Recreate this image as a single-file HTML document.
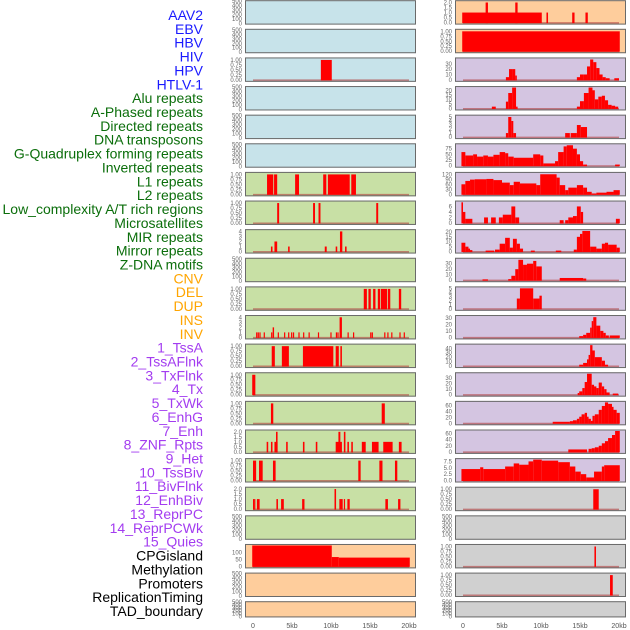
<!DOCTYPE html>
<html><head><meta charset="utf-8">
<style>
html,body{margin:0;padding:0;background:#fff;}
svg{display:block;font-family:"Liberation Sans",sans-serif;}
</style></head>
<body>
<svg id="chart" width="630" height="630" viewBox="0 0 630 630" xmlns="http://www.w3.org/2000/svg"></svg>
<script>
const labelNames = ["AAV2","EBV","HBV","HIV","HPV","HTLV-1","Alu repeats","A-Phased repeats","Directed repeats","DNA transposons","G-Quadruplex forming repeats","Inverted repeats","L1 repeats","L2 repeats","Low_complexity A/T rich regions","Microsatellites","MIR repeats","Mirror repeats","Z-DNA motifs","CNV","DEL","DUP","INS","INV","1_TssA","2_TssAFlnk","3_TxFlnk","4_Tx","5_TxWk","6_EnhG","7_Enh","8_ZNF_Rpts","9_Het","10_TssBiv","11_BivFlnk","12_EnhBiv","13_ReprPC","14_ReprPCWk","15_Quies","CPGisland","Methylation","Promoters","ReplicationTiming","TAD_boundary"];
const labelGroups = [6,13,5,15,5];
const labelColors = ["#1a1aff","#0b6e0b","#ffa500","#a33cf0","#000000"];
const xTickValues = [0,5,10,15,20];
const xTickLabels = ["0","5kb","10kb","15kb","20kb"];
const leftBg = ["b","b","b","b","b","b","g","g","g","g","g","g","g","g","g","g","g","g","g","o","o","o"];
const rightBg = ["o","o","p","p","p","p","p","p","p","p","p","p","p","p","p","p","p","r","r","r","r","r"];
const ticks01 = [0,0.25,0.5,0.75,1];
const ticks02 = [0,0.5,1,1.5,2];
const ticksEmpty = [0,100,200,300,400,500];
// left column series: [startKb, endKb, value]
const L2 = [[8.7,10.1,1]];
const L6 = [[1.8,2.6,1],[2.7,3.1,1],[5.4,5.9,1],[9.0,9.4,1],[9.6,12.4,1],[12.6,13.2,1]];
const L7 = [[3.1,3.35,1],[7.7,7.95,1],[8.4,8.65,1],[15.8,16.05,1]];
const L8 = [[2.3,2.5,1],[2.75,3.1,2],[4.5,4.7,1],[9.2,9.45,1],[10.6,10.8,1],[11.15,11.45,4],[11.8,12.0,1]];
const L10 = [[14.2,14.6,1],[14.8,15.1,1],[15.4,15.7,1],[16.0,16.3,1],[16.4,17.2,1],[17.3,17.6,1],[18.7,19.0,1]];
const L11 = [[0.4,0.55,1],[0.6,0.75,1],[0.82,0.97,1],[1.37,1.52,1],[2.32,2.47,1],[2.52,2.7,2],[3.17,3.32,1],[3.98,4.13,1],[4.5,4.65,1],[4.88,5.03,1],[5.12,5.27,1],[5.82,5.97,1],[6.42,6.57,1],[7.12,7.27,1],[8.32,8.47,1],[9.92,10.07,1],[10.62,10.77,1],[10.82,10.97,1],[11.1,11.4,4],[12.12,12.27,1],[12.82,12.97,1],[15.02,15.17,1],[15.22,15.37,1],[16.82,16.97,1],[17.22,17.37,1],[17.72,17.87,1],[18.77,18.92,1],[19.32,19.47,1]];
const L12 = [[2.4,2.8,1],[3.7,4.6,1],[6.4,10.3,1],[10.6,11.0,1],[11.2,11.4,1]];
const L13 = [[-0.1,0.3,1]];
const L14 = [[2.3,2.6,1],[16.5,16.9,1]];
const L15 = [[1.75,1.95,1],[2.3,2.5,1],[2.75,3.15,1],[2.95,3.15,2],[4.25,4.45,1],[6.4,6.6,1],[8.05,8.25,1],[10.6,11.4,1],[10.95,11.2,2],[11.65,11.85,2],[12.1,12.3,1],[12.6,12.8,1],[13.95,14.45,1],[15.25,16.1,1],[16.7,17.9,1],[18.7,19.05,1]];
const L16 = [[0.0,0.4,1],[0.77,1.24,1],[2.56,2.9,1],[13.5,13.8,1],[16.2,16.6,1],[18.2,18.5,1]];
const L17 = [[0.0,0.1,1],[0.15,0.3,1],[0.5,0.85,1],[3.0,3.2,1],[3.6,3.95,1],[6.3,6.6,1],[10.45,10.65,2],[11.07,11.5,1],[11.65,11.8,1],[12.1,12.4,1],[16.97,17.3,1],[18.6,18.9,1]];
const L19 = [[-0.1,10.1,150],[10.1,11.0,67],[11.0,20.1,63]];
// right column series
const R0 = [[-0.1,10.1,1],[2.9,3.2,2],[6.7,7.0,2],[10.7,10.9,1],[14.0,14.3,1],[15.7,16.0,1]];
const R1 = [[-0.1,20.1,1]];
const R2 = [[5.5,5.9,5],[5.9,6.4,20],[6.4,6.7,20],[6.7,6.9,8],[14.6,15.0,5],[15.0,15.4,10],[15.4,15.9,10],[15.9,16.3,25],[16.3,16.7,38],[16.7,17.1,33],[17.1,17.5,22],[17.5,17.9,10],[17.9,18.3,5],[18.3,18.8,3],[19.4,20.0,3]];
const R3 = [[3.7,4.2,2],[5.5,5.8,7.5],[5.8,6.3,17],[6.3,6.8,23],[6.8,7.0,2],[14.6,15.0,2],[15.0,15.5,8],[15.5,16.1,17],[16.1,16.6,23],[16.6,16.9,20],[16.9,17.35,10],[17.35,17.8,13],[17.8,18.2,14],[18.2,18.6,9],[18.6,19.05,4],[19.05,19.5,3],[19.5,19.9,2]];
const R4 = [[5.5,5.8,1],[5.8,6.2,5],[6.2,6.45,4],[6.45,6.8,1],[13.1,13.7,1],[13.8,14.6,1],[14.6,15.1,3],[15.1,15.9,2.5]];
const R5 = [[-0.2,0.3,60],[0.3,1.3,45],[1.3,1.8,50],[1.8,2.6,40],[2.6,3.2,45],[3.2,3.9,40],[3.9,4.7,48],[4.7,5.4,60],[5.4,5.8,55],[5.8,6.5,40],[6.5,9.0,35],[9.0,9.9,50],[9.9,10.3,45],[10.3,11.8,10],[11.8,12.2,20],[12.2,12.9,60],[12.9,13.3,85],[13.3,14.1,90],[14.1,14.6,75],[14.6,15.0,50],[15.0,15.4,20],[15.4,15.9,5],[19.5,20.1,5]];
const R6 = [[-0.2,0.3,60],[0.3,0.9,80],[0.9,1.5,88],[1.5,3.0,90],[3.0,3.9,92],[3.9,5.0,85],[5.0,6.0,70],[6.0,6.5,55],[6.5,7.3,75],[7.3,9.4,65],[9.4,9.9,55],[9.9,12.0,120],[12.0,12.4,100],[12.4,13.1,55],[13.1,13.5,25],[13.5,14.6,40],[14.6,15.4,55],[15.4,15.9,40],[15.9,16.5,15],[16.5,17.1,5],[17.1,18.4,10],[18.4,19.3,15],[19.3,20.1,25]];
const R7 = [[-0.2,0.0,7.5],[0.0,0.3,4],[0.3,1.2,1.5],[2.7,3.2,2],[3.6,4.2,2],[4.6,5.1,2],[5.1,6.2,3],[6.2,6.7,6],[6.7,7.2,2],[12.4,12.9,1],[13.1,13.5,1],[13.5,14.1,2],[14.1,14.6,2.5],[14.6,15.1,6],[15.1,15.4,4],[19.6,20.1,1.5]];
const R8 = [[-0.2,0.3,9],[0.3,0.7,5],[0.7,0.9,3],[0.9,1.2,1.5],[2.9,4.0,1],[4.1,4.7,2],[4.7,5.4,8],[5.4,6.0,14],[6.0,6.4,4],[6.4,6.9,13],[6.9,7.3,8],[7.3,7.7,3],[8.7,9.2,1],[11.9,12.6,1],[14.2,14.6,2],[14.6,15.0,15],[15.0,15.3,18],[15.3,16.3,21],[16.3,17.1,5],[17.1,17.8,3],[17.8,18.2,8],[18.2,18.6,9],[18.6,19.7,7],[19.7,20.1,4]];
const R9 = [[2.5,3.2,1.5],[5.8,6.2,2],[6.2,6.7,8],[6.7,7.1,20],[7.1,7.7,37],[7.7,8.2,28],[8.2,9.0,30],[9.0,9.4,35],[9.4,10.1,25],[12.4,15.4,4],[15.4,15.8,3]];
const R10 = [[6.9,7.3,2.5],[7.3,9.0,5],[9.0,9.8,2.5],[9.8,10.1,3.2]];
const R11 = [[14.9,15.4,2],[15.4,15.8,4],[15.8,16.3,7],[16.3,16.5,15],[16.5,16.7,25],[16.7,17.1,31],[17.1,17.6,18],[17.6,18.0,10],[18.0,18.3,7],[18.3,18.7,3],[18.8,20.1,3]];
const R12 = [[14.9,15.4,3],[15.4,15.9,7],[15.9,16.1,15],[16.1,16.3,25],[16.3,16.6,47],[16.6,16.9,35],[16.9,17.8,20],[17.8,18.2,12],[18.2,18.6,3]];
const R13 = [[14.7,14.9,3],[14.9,15.3,6],[15.3,15.6,12],[15.6,15.9,23],[15.9,16.5,38],[16.5,16.8,18],[16.8,17.1,15],[17.1,17.4,12],[17.4,17.8,22],[17.8,18.1,15],[18.1,18.4,10],[18.4,18.8,4],[19.2,19.9,2]];
const R14 = [[11.5,13.7,5],[13.7,14.1,7],[14.1,14.6,10],[14.6,14.9,15],[14.9,15.2,22],[15.2,15.6,30],[15.6,15.9,35],[15.9,16.1,22],[16.1,16.4,15],[16.4,16.6,8],[16.6,16.9,25],[16.9,17.4,30],[17.4,17.8,45],[17.8,18.2,58],[18.2,18.6,70],[18.6,19.1,65],[19.1,19.3,55],[19.3,19.7,45],[19.7,20.1,35]];
const R15 = [[13.5,15.9,8],[16.1,16.5,10],[16.5,16.9,12],[16.9,17.4,15],[17.4,17.8,20],[17.8,18.2,28],[18.2,18.6,35],[18.6,19.1,45],[19.1,19.5,55],[19.5,20.1,68]];
const R16 = [[-0.2,2.2,4.5],[2.2,2.6,5.2],[2.6,5.4,4.5],[5.4,6.5,5.5],[6.5,7.2,6.7],[7.2,8.4,6.2],[8.4,9.0,7.5],[9.0,10.1,8.2],[10.1,12.2,7.8],[12.2,13.7,7.2],[13.7,14.4,5.5],[14.4,15.1,3.5],[15.1,15.8,2.5],[15.8,16.8,1.2],[16.8,17.8,3.5],[17.8,18.1,5.5],[18.1,20.1,6]];
const R17 = [[16.7,17.4,1]];
const R19 = [[16.85,17.05,1]];
const R20 = [[18.85,19.2,1]];

// panel specs: [series, ymax, ticks, decimals]
const leftPanels = [null,null,[L2,1.05,ticks01,2],null,null,null,[L6,1.05,ticks01,2],[L7,1.05,ticks01,2],[L8,4.15,[0,1,2,3,4],0],null,[L10,1.05,ticks01,2],[L11,4.15,[0,1,2,3,4],0],[L12,1.05,ticks01,2],[L13,1.05,ticks01,2],[L14,1.05,ticks01,2],[L15,2.08,ticks02,1],[L16,1.05,ticks01,2],[L17,2.08,ticks02,1],null,[L19,150,[0,50,100],0],null,null];
const rightPanels = [[R0,2.08,ticks02,1],[R1,1.05,ticks01,2],[R2,39,[0,10,20,30],0],[R3,23,[0,5,10,15,20],0],[R4,5.2,[0,1,2,3,4,5],0],[R5,92,[0,25,50,75],0],[R6,125,[0,30,60,90,120],0],[R7,7.6,[0,2,4,6],0],[R8,21.3,[0,5,10,15,20],0],[R9,38,[0,10,20,30],0],[R10,5.1,[0,1,2,3,4,5],0],[R11,32,[0,10,20,30],0],[R12,47,[0,10,20,30,40],0],[R13,38,[0,10,20,30],0],[R14,70,[0,20,40,60],0],[R15,68,[0,20,40,60],0],[R16,8.2,[0,2.5,5,7.5],1],[R17,1.05,ticks01,2],null,[R19,1.05,ticks01,2],[R20,1.05,ticks01,2],null];

const NS = "http://www.w3.org/2000/svg";
const svg = document.getElementById("chart");
const bgColor = {b:"#c7e3ea",g:"#c8e0a5",o:"#fecd9c",p:"#d4c5e1",r:"#d0d0d0"};
const colX = [245,455];
const panelW = 171;
function mk(tag, attrs){const e=document.createElementNS(NS,tag);for(const k in attrs)e.setAttribute(k,attrs[k]);return e;}
function rowTop(i){return 0.2+28.62*i;}
function rowH(i){return i===21?16.2:24.4;}
function xScale(col, kb){return colX[col]+8+kb*7.8;}

// left labels
let li=0;
labelGroups.forEach((n,g)=>{
  for(let k=0;k<n;k++){
    const t=mk("text",{x:203,y:(15+13.86*li+5).toFixed(1),"text-anchor":"end","font-size":"14",fill:labelColors[g]});
    
    
    t.textContent=labelNames[li];
    svg.appendChild(t);li++;
  }
});

function drawPanel(col,i,spec){
  const top=rowTop(i), h=rowH(i), x0=colX[col];
  const bgKey = col===0?leftBg[i]:rightBg[i];
  const g=mk("g",{});
  
  
  svg.appendChild(g);
  const bg=mk("rect",{x:x0,y:top,width:panelW,height:h,fill:bgColor[bgKey]});
  
  
  g.appendChild(bg);
  const base=top+h-2, yTop=top+1.5;
  let ymax, ticks, dec, series=null;
  if(spec){series=spec[0];ymax=spec[1];ticks=spec[2];dec=spec[3];}
  else {ymax=500;ticks=ticksEmpty;dec=0;}
  const yS=v=> spec? base-(v/ymax)*(base-yTop) : (top+h-1)-(v/500)*(h-2);
  if(series){
    const bl=mk("line",{x1:xScale(col,0),x2:xScale(col,20),y1:base+0.3,y2:base+0.3,stroke:"#b04040","stroke-opacity":"0.6","stroke-width":"1.6"});
    
    
    g.appendChild(bl);
    series.forEach(s=>{
      const xa=xScale(col,s[0]), xb=xScale(col,s[1]), yv=yS(Math.min(s[2],ymax));
      const r=mk("rect",{x:xa.toFixed(2),y:yv.toFixed(2),width:Math.max(1.2,xb-xa).toFixed(2),height:(base-yv+0.5).toFixed(2),fill:"#ff0000"});
      
      
      g.appendChild(r);
    });
  }
  const fr=mk("rect",{x:x0+0.5,y:top+0.5,width:panelW-1,height:h-1,fill:"none",stroke:"#6a6a6a","stroke-width":"1"});
  
  
  g.appendChild(fr);
  ticks.forEach(tv=>{
    const t=mk("text",{x:x0-3,y:(yS(tv)+2).toFixed(1),"text-anchor":"end","font-size":"6",fill:"#666"});
    
    
    t.textContent=tv.toFixed(dec);
    g.appendChild(t);
  });
}
for(let i=0;i<22;i++){drawPanel(0,i,leftPanels[i]);drawPanel(1,i,rightPanels[i]);}

[0,1].forEach(col=>{
  xTickValues.forEach((v,k)=>{
    const t=mk("text",{x:xScale(col,v).toFixed(1),y:628,"text-anchor":"middle","font-size":"7",fill:"#555"});
    
    
    t.textContent=xTickLabels[k];
    svg.appendChild(t);
  });
});
</script>
</body></html>
